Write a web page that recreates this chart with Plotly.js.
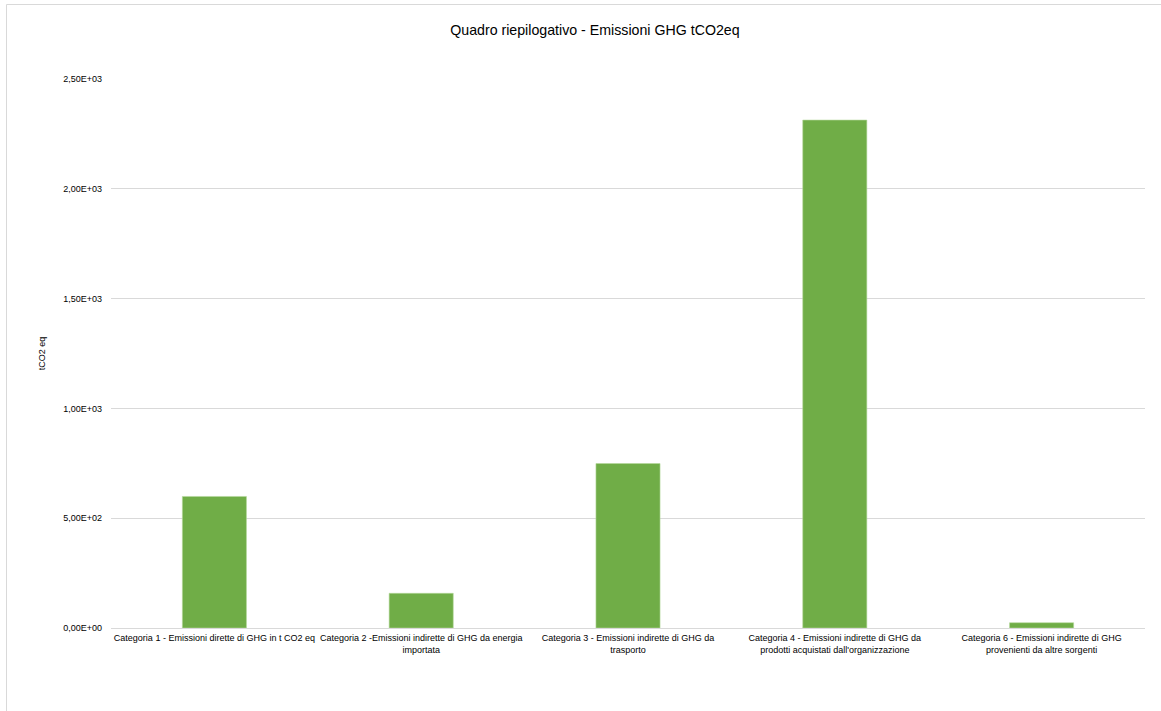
<!DOCTYPE html>
<html>
<head>
<meta charset="utf-8">
<script src="https://cdn.plot.ly/plotly-3.0.1.min.js"></script>
<style>html,body{margin:0;padding:0;background:#fff;}#chart{width:1161px;height:711px;}</style>
</head>
<body>
<div id="chart"></div>
<script>
const categories = [
  "Categoria 1 - Emissioni dirette di GHG in t CO2 eq",
  "Categoria 2 -Emissioni indirette di GHG da energia<br>importata",
  "Categoria 3 - Emissioni indirette di GHG da<br>trasporto",
  "Categoria 4 - Emissioni indirette di GHG da<br>prodotti acquistati dall'organizzazione",
  "Categoria 6 - Emissioni indirette di GHG<br>provenienti da altre sorgenti"
];
const emissions = [599, 158, 749, 2313, 24];
const yTickVals = [0, 500, 1000, 1500, 2000, 2500];
const yTickText = ["0,00E+00", "5,00E+02", "1,00E+03", "1,50E+03", "2,00E+03", "2,50E+03"];

const font = "Liberation Sans, Arial, sans-serif";

const data = [{
  type: "bar",
  x: categories,
  y: emissions,
  marker: {color: "#70AD47", line: {color: "#b5d99c", width: 0.6}},
  hoverinfo: "x+y"
}];

const layout = {
  width: 1161, height: 711,
  paper_bgcolor: "#ffffff", plot_bgcolor: "#ffffff",
  margin: {l: 111, r: 16, t: 79, b: 83, pad: 0},
  font: {family: font, color: "#404040", size: 9},
  showlegend: false,
  bargap: 0.69,
  title: {
    text: "Quadro riepilogativo - Emissioni GHG tCO2eq",
    font: {family: font, size: 14.2, color: "#000000"},
    x: 0.468, xref: "paper", xanchor: "center",
    y: 1 - 30/711, yref: "container", yanchor: "middle"
  },
  xaxis: {
    type: "category",
    tickfont: {family: font, size: 9, color: "#000000"},
    tickangle: 0,
    showgrid: false, showline: false, zeroline: false,
    ticks: "", ticklen: 0, ticklabelstandoff: 3
  },
  yaxis: {
    range: [0, 2500],
    tickvals: yTickVals, ticktext: yTickText,
    tickfont: {family: font, size: 9, color: "#000000"},
    showgrid: true, gridcolor: "#d9d9d9", gridwidth: 1,
    zeroline: true, zerolinecolor: "#d9d9d9", zerolinewidth: 1,
    showline: false, ticks: "", ticklabelstandoff: 8,
    title: {text: "tCO2 eq", font: {family: font, size: 9, color: "#000000"}, standoff: 16}
  },
  shapes: [{
    type: "rect", xref: "paper", yref: "paper",
    x0: (6.5 - 111)/1034, x1: (1200 - 111)/1034,
    y0: (628 - 760)/549, y1: (628 - 4.5)/549,
    line: {color: "#d9d9d9", width: 1}, fillcolor: "rgba(0,0,0,0)", layer: "below"
  }]
};

Plotly.newPlot("chart", data, layout, {displayModeBar: false, staticPlot: true});
</script>
</body>
</html>
